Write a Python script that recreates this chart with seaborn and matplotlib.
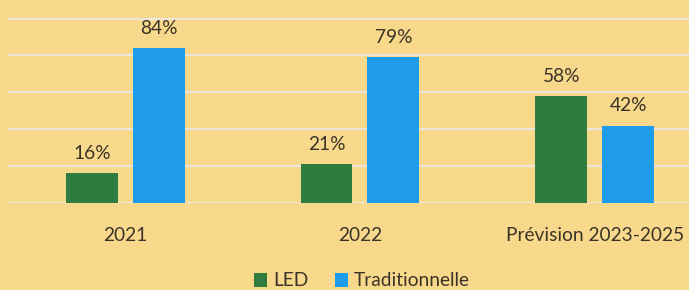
import matplotlib
matplotlib.use("Agg")
import matplotlib.pyplot as plt
import seaborn as sns
import pandas as pd

categories = ["2021", "2022", "Prévision 2023-2025"]
led = [16, 21, 58]
trad = [84, 79, 42]
series_names = ["LED", "Traditionnelle"]

df = pd.DataFrame({
    "cat": categories * 2,
    "val": led + trad,
    "serie": [series_names[0]] * 3 + [series_names[1]] * 3,
})

BG = "#F8D98B"
GREEN = "#2F7D3E"
BLUE = "#1E9CEA"
TXT = "#3A3328"

sns.set_theme(style="white")
plt.rcParams["font.family"] = ["Lato", "DejaVu Sans"]

fig = plt.figure(figsize=(6.89, 2.90), dpi=100)
fig.patch.set_facecolor(BG)
px_per = 1.845
ytop = 105
ax = fig.add_axes([8 / 689, 87 / 290, 681 / 689, ytop * px_per / 290])
ax.set_facecolor(BG)

sns.barplot(data=df, x="cat", y="val", hue="serie", palette=[GREEN, BLUE],
            width=0.570, gap=0.224, ax=ax, legend=True, saturation=1,
            linewidth=0, edgecolor="none")

ax.set_ylim(0, ytop)
ax.set_xlim(-0.5, 2.5 - 23 / 235)
ax.set_yticks([0, 20, 40, 60, 80, 100])
ax.yaxis.grid(True, color="#EEE6DA", linewidth=1.6)
ax.set_axisbelow(True)
for s in ax.spines.values():
    s.set_visible(False)
ax.tick_params(axis="y", left=False, labelleft=False)
ax.tick_params(axis="x", bottom=False, pad=11, labelsize=13.8, labelcolor=TXT)
ax.set_xlabel("")
ax.set_ylabel("")

for cont in ax.containers:
    ax.bar_label(cont, labels=[f"{int(round(v))}%" for v in cont.datavalues],
                 padding=8, fontsize=13.8, color=TXT)

handles, labels = ax.get_legend_handles_labels()
ax.legend_.remove()
fig.legend(handles, labels, loc="center", bbox_to_anchor=(362 / 689, 1 - 281 / 290),
           ncol=2, frameon=False, fontsize=13.8, handlelength=0.7, handleheight=0.7,
           handletextpad=0.3, columnspacing=1.4, labelcolor=TXT)

fig.savefig("out.png", dpi=100, facecolor=BG)
